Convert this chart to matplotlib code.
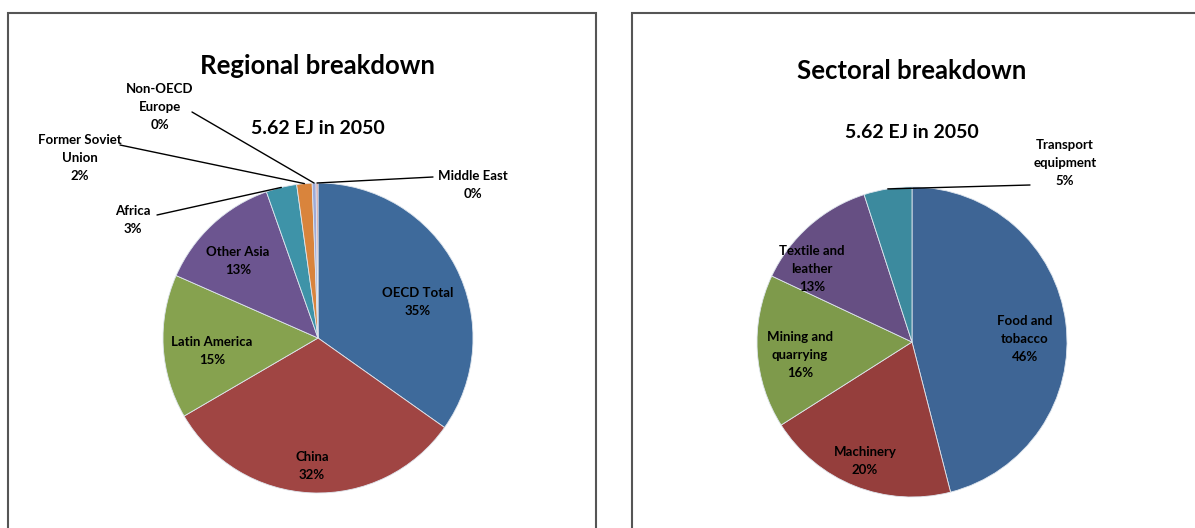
import numpy as np
import matplotlib.pyplot as plt
from matplotlib.patches import Rectangle

# --- data ---
region_names = ["OECD Total", "China", "Latin America", "Other Asia", "Africa",
                "Former Soviet\nUnion", "Non-OECD\nEurope", "Middle East"]
region_share = [34.8, 31.8, 15.0, 13.0, 3.2, 1.6, 0.4, 0.2]
region_colors = ["#3E6A9B", "#A04543", "#86A24F", "#6C5590", "#3E93A8",
                 "#D9843C", "#9EAAD8", "#D99694"]

sector_names = ["Food and\ntobacco", "Machinery", "Mining and\nquarrying",
                "Textile and\nleather", "Transport\nequipment"]
sector_share = [46, 20, 16, 13, 5]
sector_colors = ["#3E6595", "#953E3C", "#7E9A4B", "#664F83", "#3C8A9E"]

total_label = "5.62 EJ in 2050"

W, H = 1195, 528
FONT = "Lato"


def fpx(x, y):
    # pixel position (from top-left) -> figure fraction
    return x / W, 1 - y / H


def wedge_edge(values, i, r=1.0):
    vals = np.asarray(values, dtype=float)
    cum = vals.cumsum() / vals.sum()
    mid = cum[i] - vals[i] / vals.sum() / 2
    theta = np.deg2rad(90 - 360 * mid)
    return r * np.cos(theta), r * np.sin(theta)


def label(x, y, txt):
    fig.text(*fpx(x, y), txt, ha="center", va="center", fontsize=9.5,
             fontweight="bold", family=FONT, linespacing=1.6)


def draw_pie(center, radius, values, names, colors, inside, outside):
    cx, cy = center
    ax = fig.add_axes([(cx - radius) / W, 1 - (cy + radius) / H,
                       2 * radius / W, 2 * radius / H])
    ax.pie(values, colors=colors, startangle=90, counterclock=False,
           wedgeprops=dict(edgecolor="#dfe6ee", linewidth=0.6))
    ax.set_xlim(-1, 1)
    ax.set_ylim(-1, 1)
    ax.set_aspect("equal")
    for i, (name, v) in enumerate(zip(names, values)):
        txt = f"{name}\n{round(v)}%"
        if i in inside:
            label(*inside[i], txt)
        elif i in outside:
            (tx, ty), (lx, ly) = outside[i]
            label(tx, ty, txt)
            ex, ey = wedge_edge(values, i)
            ax.annotate("", xy=(ex, ey), xycoords="data",
                        xytext=fpx(lx, ly), textcoords="figure fraction",
                        arrowprops=dict(arrowstyle="-", color="black", lw=1,
                                        shrinkA=0, shrinkB=0),
                        annotation_clip=False)
    return ax


fig = plt.figure(figsize=(W / 100, H / 100), dpi=100)

# chart frames
for x0, w in [(8, 588), (632, 600)]:
    fig.patches.append(Rectangle(fpx(x0, 560), w / W, 547 / H,
                                 transform=fig.transFigure, fill=False,
                                 edgecolor="#555555", lw=1.5))

# --- regional ---
fig.text(*fpx(318, 66), "Regional breakdown", ha="center", va="center",
         fontsize=18.5, fontweight="bold", family=FONT)
fig.text(*fpx(318, 128), total_label, ha="center", va="center",
         fontsize=14, fontweight="bold", family=FONT)
draw_pie((318, 338), 155, region_share, region_names, region_colors,
         inside={0: (418, 302), 1: (312, 466), 2: (212, 351), 3: (238, 261)},
         outside={4: ((133, 220), (157, 215)),
                  5: ((80, 158), (120, 145)),
                  6: ((160, 107), (192, 112)),
                  7: ((473, 185), (433, 177))})

# --- sectoral ---
fig.text(*fpx(912, 71), "Sectoral breakdown", ha="center", va="center",
         fontsize=18.5, fontweight="bold", family=FONT)
fig.text(*fpx(912, 132), total_label, ha="center", va="center",
         fontsize=14, fontweight="bold", family=FONT)
draw_pie((912, 342), 155, sector_share, sector_names, sector_colors,
         inside={0: (1025, 339), 1: (865, 461), 2: (800, 355), 3: (812, 269)},
         outside={4: ((1065, 163), (1030, 185))})

fig.savefig("out.png", dpi=100)
